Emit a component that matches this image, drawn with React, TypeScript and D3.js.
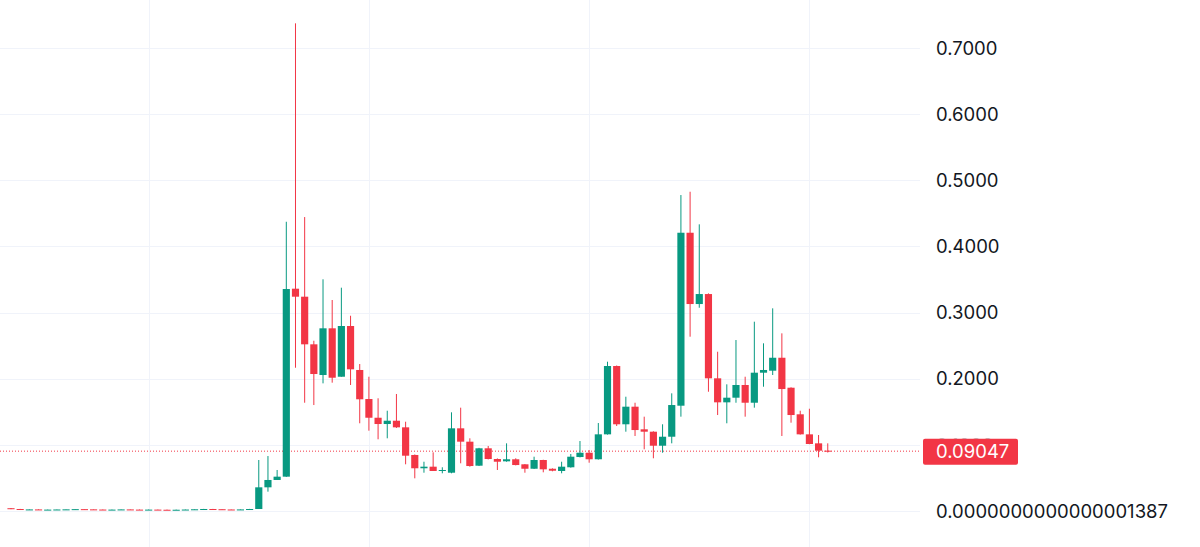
import React, { useEffect, useRef } from 'react';
import * as d3 from 'd3';

// weekly OHLC, oldest first
const opens = [
  0.0042, 0.0030, 0.0020, 0.0024, 0.0019, 0.0021, 0.0023, 0.0025, 0.0028, 0.0025,
  0.0022, 0.0019, 0.0021, 0.0024, 0.0021, 0.0018, 0.0021, 0.0019, 0.0017, 0.0019,
  0.0022, 0.0026, 0.0030, 0.0027, 0.0023, 0.0020, 0.0024,
  0.0030, 0.0358, 0.0469, 0.0519, 0.3361, 0.3240, 0.2520, 0.2056, 0.2762, 0.2030,
  0.2797, 0.2132, 0.1693, 0.1410, 0.1315, 0.1365, 0.1265, 0.0847, 0.0646, 0.0670,
  0.0605, 0.0579, 0.1250, 0.1048, 0.0685, 0.0948, 0.0786, 0.0751, 0.0782, 0.0706,
  0.0639, 0.0771, 0.0639, 0.0605, 0.0661, 0.0816, 0.0881, 0.0782, 0.1159, 0.2192,
  0.1311, 0.1577, 0.1235, 0.1199, 0.0987, 0.1123, 0.1592, 0.4207, 0.3129, 0.3280,
  0.2006, 0.1643, 0.1713, 0.1905, 0.1637, 0.2091, 0.2121, 0.2317, 0.1864, 0.1462,
  0.1159, 0.1023, 0.0912,
];
const highs = [
  0.0045, 0.0032, 0.0026, 0.0026, 0.0023, 0.0025, 0.0027, 0.0030, 0.0030, 0.0027,
  0.0024, 0.0023, 0.0026, 0.0026, 0.0023, 0.0023, 0.0023, 0.0021, 0.0021, 0.0024,
  0.0028, 0.0032, 0.0032, 0.0029, 0.0025, 0.0026, 0.0032,
  0.0771, 0.0831, 0.0620, 0.4373, 0.7373, 0.4444, 0.2574, 0.3503, 0.3190, 0.3376,
  0.2952, 0.2222, 0.2030, 0.1704, 0.1516, 0.1769, 0.1350, 0.0855, 0.0745, 0.0887,
  0.0661, 0.1492, 0.1562, 0.1099, 0.0955, 0.0983, 0.0795, 0.1023, 0.0797, 0.0710,
  0.0821, 0.0775, 0.0645, 0.0745, 0.0862, 0.1058, 0.0922, 0.1330, 0.2257, 0.2200,
  0.1728, 0.1637, 0.1426, 0.1205, 0.1311, 0.1779, 0.4777, 0.4827, 0.4334, 0.3290,
  0.2408, 0.1915, 0.2585, 0.2030, 0.2862, 0.2535, 0.3064, 0.2686, 0.1870, 0.1516,
  0.1546, 0.1149, 0.1023,
];
const lows = [
  0.0028, 0.0020, 0.0018, 0.0017, 0.0017, 0.0019, 0.0021, 0.0023, 0.0023, 0.0020,
  0.0017, 0.0017, 0.0019, 0.0019, 0.0016, 0.0016, 0.0017, 0.0015, 0.0015, 0.0017,
  0.0020, 0.0024, 0.0025, 0.0021, 0.0018, 0.0018, 0.0022,
  0.0030, 0.0292, 0.0469, 0.0515, 0.2166, 0.1637, 0.1602, 0.1930, 0.1940, 0.2030,
  0.1905, 0.1326, 0.1214, 0.1084, 0.1099, 0.1255, 0.0706, 0.0494, 0.0579, 0.0605,
  0.0570, 0.0570, 0.0721, 0.0670, 0.0680, 0.0780, 0.0620, 0.0745, 0.0690, 0.0579,
  0.0635, 0.0585, 0.0600, 0.0570, 0.0655, 0.0810, 0.0730, 0.0778, 0.1155, 0.1285,
  0.1199, 0.1134, 0.0933, 0.0797, 0.0881, 0.1023, 0.1426, 0.2635, 0.3073, 0.1803,
  0.1451, 0.1326, 0.1637, 0.1426, 0.1562, 0.1879, 0.2056, 0.1134, 0.1335, 0.1155,
  0.1010, 0.0812, 0.0884,
];
const closes = [
  0.0030, 0.0022, 0.0024, 0.0019, 0.0021, 0.0023, 0.0025, 0.0028, 0.0025, 0.0022,
  0.0019, 0.0021, 0.0024, 0.0021, 0.0018, 0.0021, 0.0019, 0.0017, 0.0019, 0.0022,
  0.0026, 0.0030, 0.0027, 0.0023, 0.0020, 0.0024, 0.0030,
  0.0358, 0.0469, 0.0519, 0.3356, 0.3240, 0.2520, 0.2071, 0.2762, 0.2015, 0.2797,
  0.2142, 0.1689, 0.1410, 0.1315, 0.1365, 0.1265, 0.0836, 0.0646, 0.0670, 0.0605,
  0.0620, 0.1250, 0.1048, 0.0680, 0.0948, 0.0786, 0.0745, 0.0782, 0.0695, 0.0639,
  0.0771, 0.0630, 0.0609, 0.0670, 0.0821, 0.0881, 0.0782, 0.1159, 0.2192, 0.1311,
  0.1577, 0.1224, 0.1199, 0.0987, 0.1123, 0.1602, 0.4207, 0.3129, 0.3280, 0.2006,
  0.1643, 0.1713, 0.1905, 0.1637, 0.2091, 0.2132, 0.2317, 0.1844, 0.1451, 0.1159,
  0.1013, 0.0912, 0.09047,
];

const yTicks = [0.1, 0.2, 0.3, 0.4, 0.5, 0.6, 0.7];
const minLabel = 1.387e-16;
const lastPrice = 0.09047;
const vGridAt = [15, 39, 63, 87];

const UP = '#089981';
const DOWN = '#F23645';

const App: React.FC = () => {
  const svgRef = useRef<SVGSVGElement>(null);

  useEffect(() => {
    if (!svgRef.current) return;
    const svg = d3.select(svgRef.current);
    svg.selectAll('*').remove();

    const width = 1200;
    const height = 547;
    const plotRight = 920;
    const step = 9.177;
    const idx = d3.range(opens.length);

    const x = d3.scaleBand<number>()
      .domain(idx)
      .range([11 - step / 2, 11 - step / 2 + step * idx.length])
      .paddingInner(0.22)
      .paddingOuter(0.11);

    const y = d3.scaleLinear().domain([0, 0.7]).range([511, 48]);
    const cx = (i: number) => x(i)! + x.bandwidth() / 2;
    const py = y(lastPrice);

    // grid
    const grid = svg.append('g');
    grid.selectAll('.hg')
      .data([0, ...yTicks])
      .enter()
      .append('line')
      .attr('x1', 0)
      .attr('x2', plotRight)
      .attr('y1', d => Math.round(y(d)) + 0.5)
      .attr('y2', d => Math.round(y(d)) + 0.5)
      .attr('stroke', '#f0f3fa');
    grid.selectAll('.vg')
      .data(vGridAt)
      .enter()
      .append('line')
      .attr('x1', d => Math.round(cx(d)) + 0.5)
      .attr('x2', d => Math.round(cx(d)) + 0.5)
      .attr('y1', 0)
      .attr('y2', height)
      .attr('stroke', '#f0f3fa');

    // last price dotted line
    svg.append('line')
      .attr('x1', 0)
      .attr('x2', plotRight)
      .attr('y1', py)
      .attr('y2', py)
      .attr('stroke', DOWN)
      .attr('stroke-width', 1)
      .attr('stroke-dasharray', '1 2');

    // candles
    const candles = svg.append('g')
      .selectAll('g')
      .data(idx)
      .enter()
      .append('g');

    const col = (i: number) => (closes[i] >= opens[i] ? UP : DOWN);

    candles.append('line')
      .attr('x1', i => cx(i))
      .attr('x2', i => cx(i))
      .attr('y1', i => y(highs[i]))
      .attr('y2', i => y(lows[i]))
      .attr('stroke', col)
      .attr('stroke-width', 1);

    candles.append('rect')
      .attr('x', i => x(i)!)
      .attr('width', x.bandwidth())
      .attr('y', i => y(Math.max(opens[i], closes[i])))
      .attr('height', i => Math.max(1, Math.abs(y(opens[i]) - y(closes[i]))))
      .attr('fill', col);

    // right axis labels (the one under the price badge fades out)
    const axis = svg.append('g')
      .style('font-family', 'Inter, sans-serif')
      .style('font-size', '18.5px')
      .attr('fill', '#131722');

    axis.selectAll('text')
      .data(yTicks)
      .enter()
      .append('text')
      .attr('x', 936)
      .attr('y', d => y(d))
      .attr('dy', '0.36em')
      .attr('opacity', d => (Math.abs(y(d) - py) < 26 ? 0.25 : 1))
      .text(d => d3.format('.4f')(d));

    axis.append('text')
      .attr('x', 936)
      .attr('y', y(0))
      .attr('dy', '0.36em')
      .text(minLabel.toFixed(19));

    // last price badge
    svg.append('rect')
      .attr('x', 923)
      .attr('y', py - 12.5)
      .attr('width', 95)
      .attr('height', 26)
      .attr('rx', 2)
      .attr('fill', DOWN);
    svg.append('text')
      .attr('x', 936)
      .attr('y', py + 0.5)
      .attr('dy', '0.36em')
      .style('font-family', 'Inter, sans-serif')
      .style('font-size', '18.5px')
      .attr('fill', '#ffffff')
      .text(String(lastPrice));

    svg.attr('width', width).attr('height', height);
  }, []);

  return (
    <svg
      ref={svgRef}
      width={1200}
      height={547}
      style={{ position: 'absolute', left: 0, top: 0, background: '#ffffff' }}
    />
  );
};

export default App;
